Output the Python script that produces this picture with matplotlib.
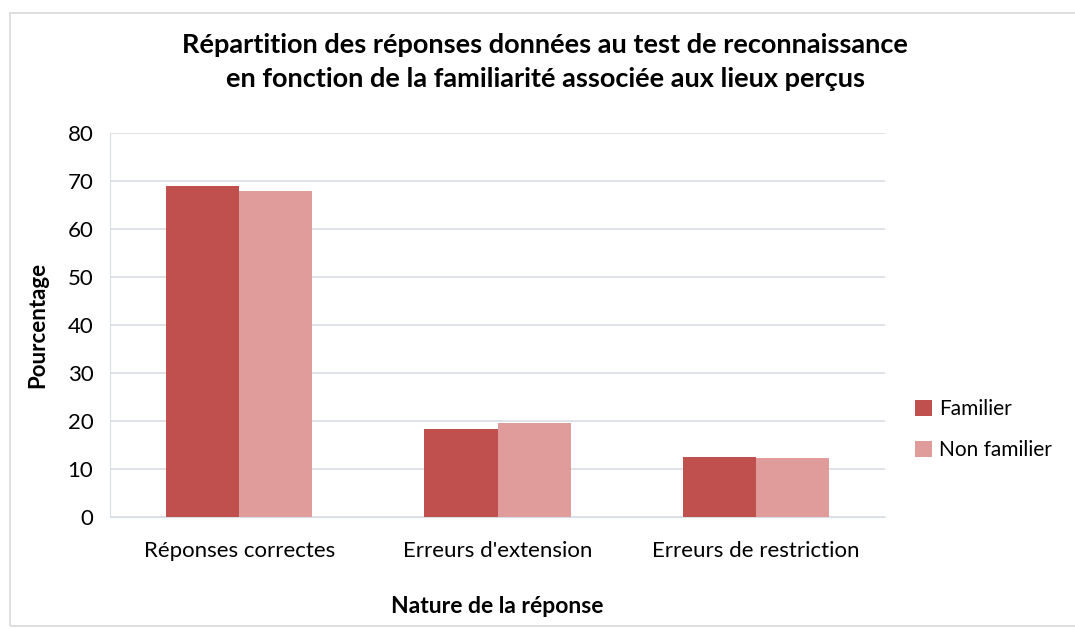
import matplotlib.pyplot as plt
import numpy as np
from matplotlib.patches import Rectangle

categories = ['Réponses correctes', "Erreurs d'extension", 'Erreurs de restriction']
familier = [69.0, 18.3, 12.6]
non_familier = [68.0, 19.6, 12.4]
series_names = ['Familier', 'Non familier']

plt.rcParams['font.family'] = ['Lato', 'DejaVu Sans']

fig = plt.figure(figsize=(10.75, 6.29), dpi=100)
fig.patches.append(Rectangle((0.009, 0.005), 0.995, 0.975, transform=fig.transFigure,
                             fill=False, edgecolor='#d9d9d9', linewidth=1.2))
ax = fig.add_axes([0.1023, 0.1776, 0.721, 0.6104])

x = np.arange(len(categories))
w = 0.283
ax.bar(x - w / 2, familier, w, color='#c0504d', label=series_names[0], zorder=3)
ax.bar(x + w / 2, non_familier, w, color='#df9c9b', label=series_names[1], zorder=3)

ax.set_xlim(-0.5, 2.5)
ax.set_ylim(0, 80)
ax.set_yticks(range(0, 81, 10))
ax.yaxis.grid(True, color='#d9dde4', linewidth=1.2, zorder=0)
ax.set_xticks(x)
ax.set_xticklabels(categories, fontsize=16)
ax.tick_params(axis='y', labelsize=16, length=0, pad=12)
ax.tick_params(axis='x', length=0, pad=17)
for s in ['top', 'right']:
    ax.spines[s].set_visible(False)
ax.spines['left'].set_color('#d9dde4')
ax.spines['bottom'].set_color('#d9dde4')

ax.set_ylabel('Pourcentage', fontsize=16, fontweight='bold', labelpad=14)
ax.set_xlabel('Nature de la réponse', fontsize=16.5, fontweight='bold', labelpad=25)
fig.suptitle('Répartition des réponses données au test de reconnaissance\n'
             'en fonction de la familiarité associée aux lieux perçus',
             fontsize=19.5, fontweight='bold', x=0.507, y=0.948, linespacing=1.5)

ax.legend(loc='center left', bbox_to_anchor=(1.02, 0.229), frameon=False,
          fontsize=15, handlelength=0.8, handleheight=0.8, handletextpad=0.35,
          labelspacing=1.0, borderaxespad=0.3)

fig.savefig('out.png', dpi=100)
